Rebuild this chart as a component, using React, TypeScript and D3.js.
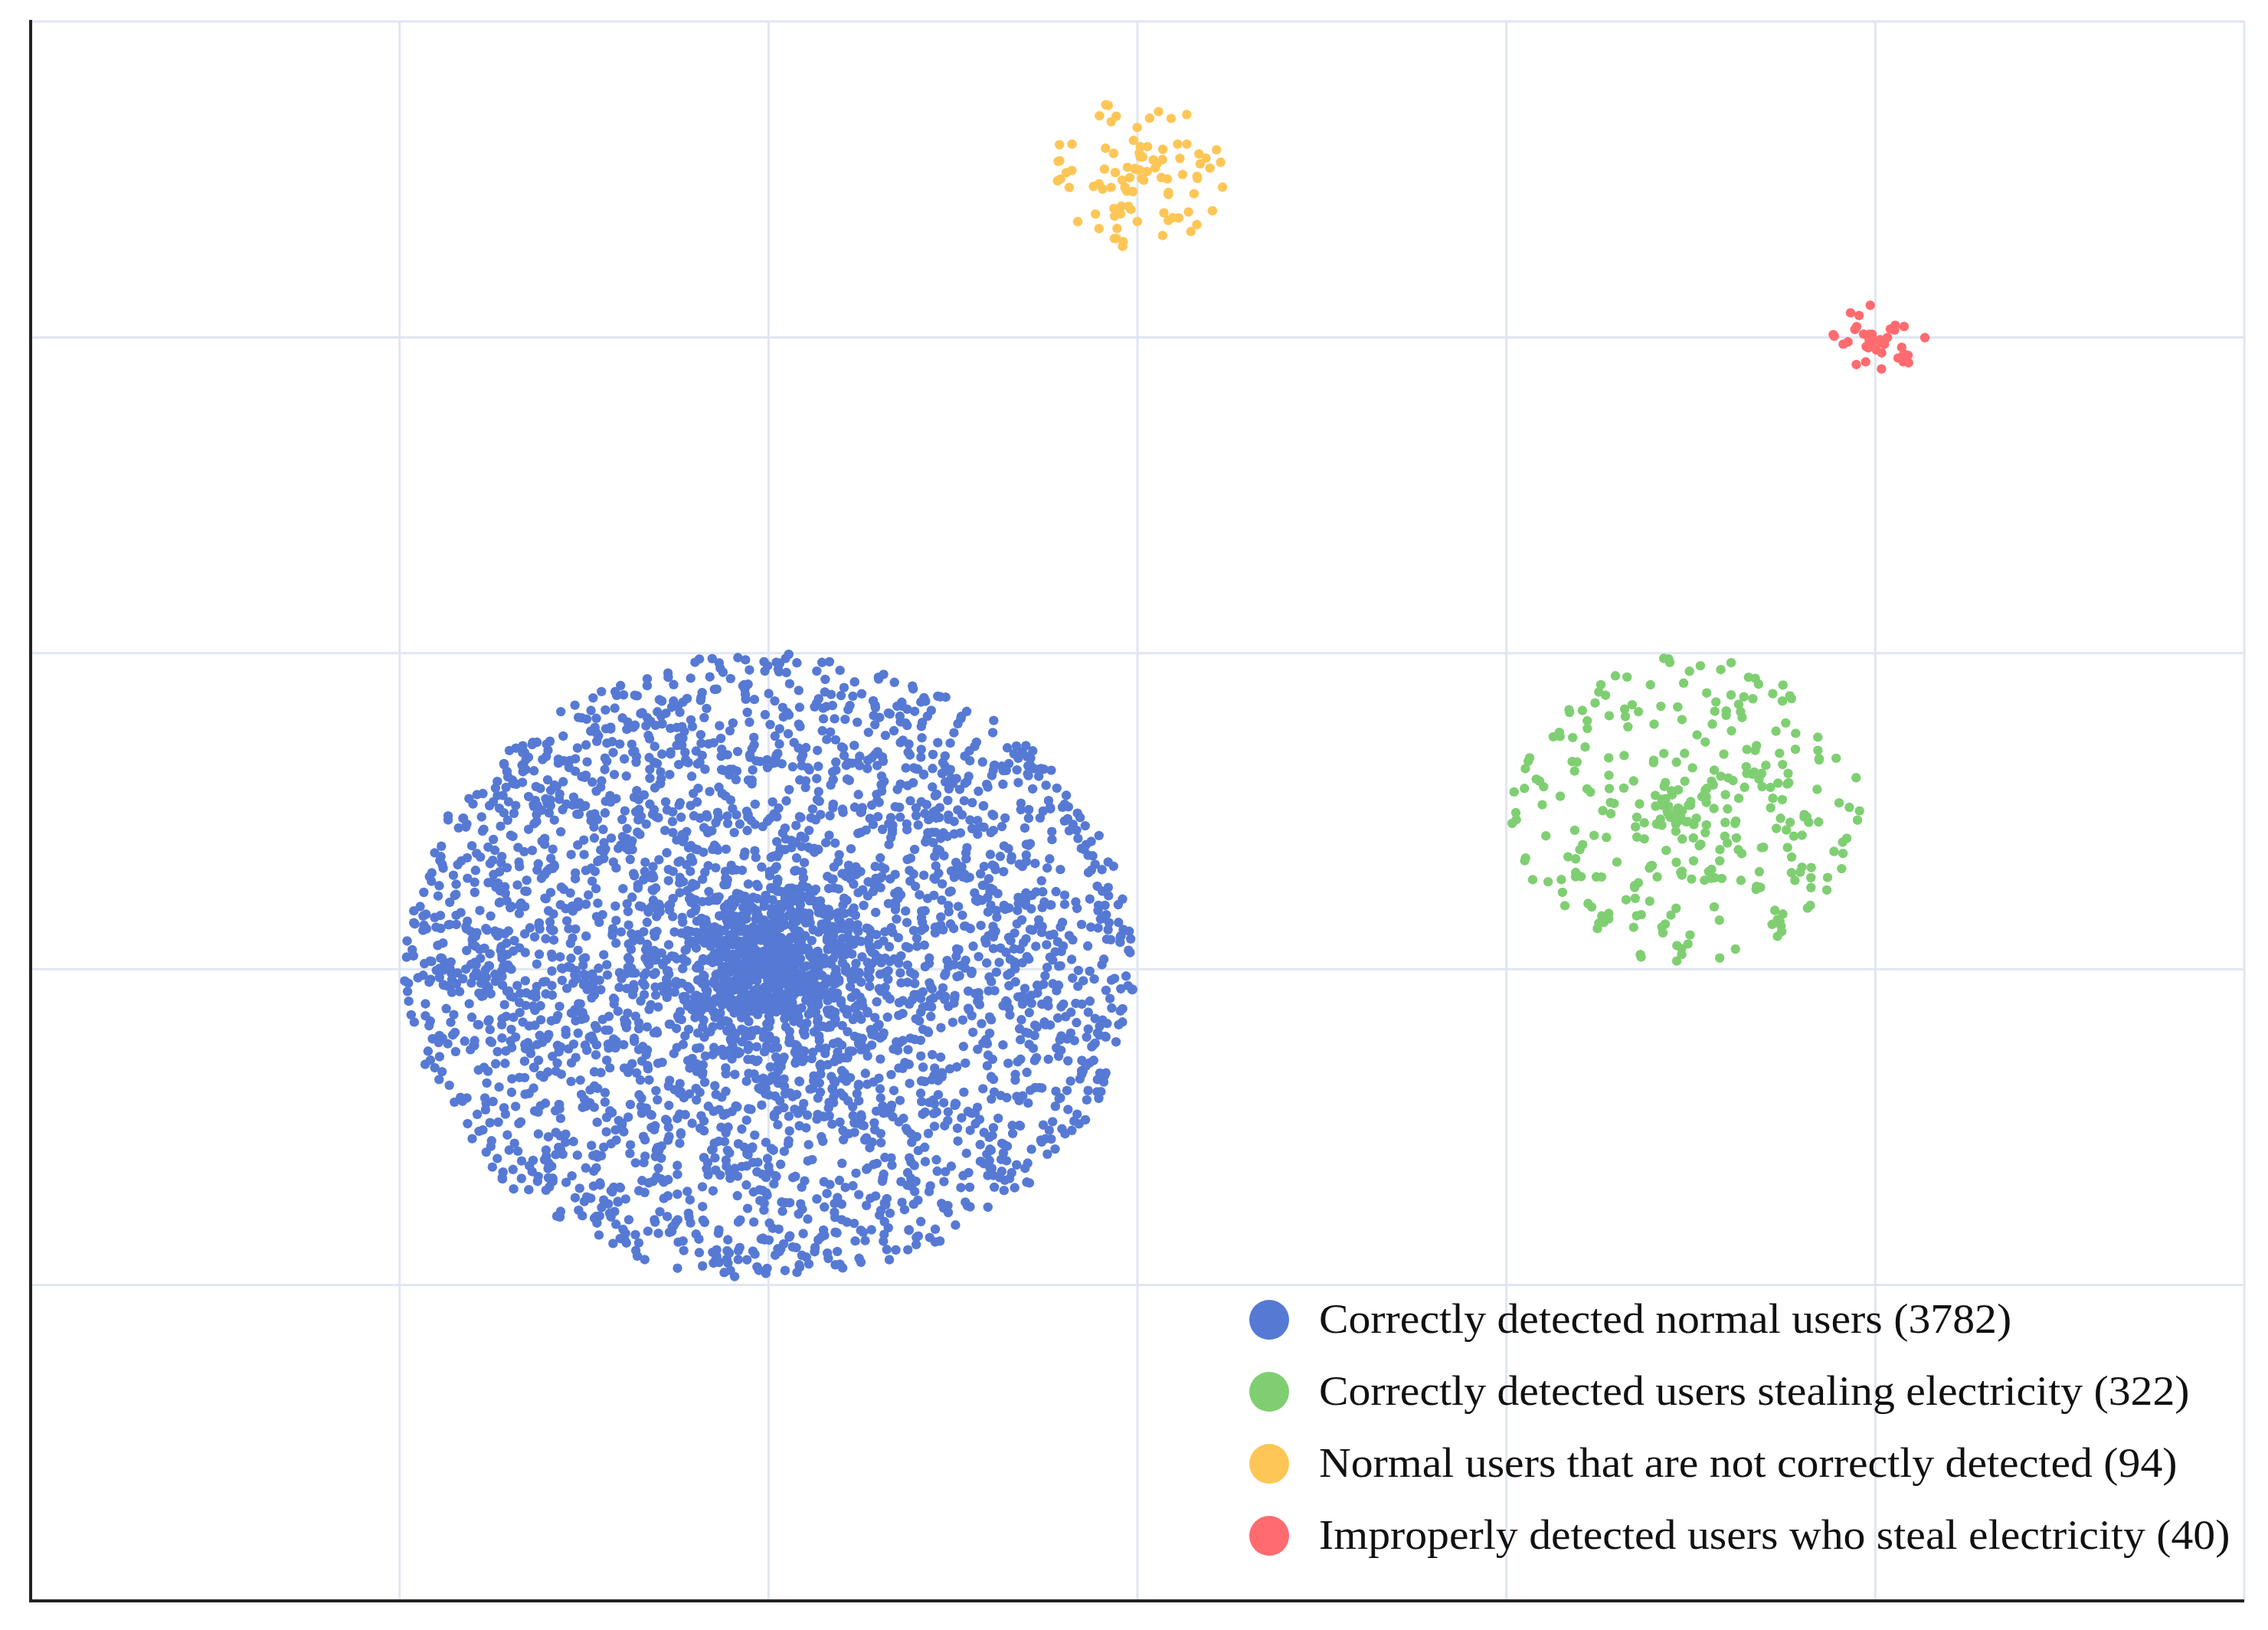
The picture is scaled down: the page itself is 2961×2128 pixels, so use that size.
import React from "react";
import * as d3 from "d3";

// ---- Chart data ----
const seriesNames = [
  "Correctly detected normal users (3782)",
  "Correctly detected users stealing electricity (322)",
  "Normal users that are not correctly detected (94)",
  "Improperly detected users who steal electricity (40)",
];
const seriesCounts = [3782, 322, 94, 40];
const seriesColors = ["#5679d4", "#7fcf72", "#fec656", "#ff6b6f"];
// cluster centres and extents in axis units
const clusterCenterX = [2.0, 4.485, 3.0, 5.0];
const clusterCenterY = [2.01, 2.505, 4.52, 4.0];
const clusterRadiusX = [0.99, 0.475, 0.237, 0.145];
const clusterRadiusY = [0.99, 0.485, 0.24, 0.125];
const clusterCoreShare = [0.16, 0.1, 0.15, 0.18];
const clusterCoreSpread = [0.14, 0.1, 0.12, 0.2];
const xTicks = [1, 2, 3, 4, 5, 6];
const yTicks = [1, 2, 3, 4, 5];

// Individual embedded points cannot be read one by one from the picture;
// they are laid out deterministically inside each cluster's measured extent.
function mulberry32(a: number) {
  return function () {
    a |= 0;
    a = (a + 0x6d2b79f5) | 0;
    let t = Math.imul(a ^ (a >>> 15), 1 | a);
    t = (t + Math.imul(t ^ (t >>> 7), 61 | t)) ^ t;
    return ((t ^ (t >>> 14)) >>> 0) / 4294967296;
  };
}

type Pt = { x: number; y: number; s: number };
function buildPoints(): Pt[][] {
  const rng = mulberry32(20240611);
  return seriesCounts.map((n, s) => {
    const pts: Pt[] = [];
    for (let i = 0; i < n; i++) {
      let r: number;
      if (rng() < clusterCoreShare[s]) {
        r = Math.min(1, clusterCoreSpread[s] * Math.sqrt(-2 * Math.log(1 - rng() * 0.9999)));
      } else {
        r = Math.pow(rng(), 0.58);
      }
      const th = rng() * Math.PI * 2;
      pts.push({
        x: clusterCenterX[s] + clusterRadiusX[s] * r * Math.cos(th),
        y: clusterCenterY[s] + clusterRadiusY[s] * r * Math.sin(th),
        s,
      });
    }
    return pts;
  });
}

const W = 2961;
const H = 2128;
const M = { left: 40, right: 31, top: 28, bottom: 38 };

export default function App() {
  const points = React.useMemo(buildPoints, []);
  const x = d3.scaleLinear().domain([0, 6]).range([M.left, W - M.right]);
  const y = d3.scaleLinear().domain([0, 5]).range([H - M.bottom, M.top]);
  const legendX = 1657;
  const legendY0 = 1723;
  const legendStep = 94;
  return (
    <svg
      width={W}
      height={H}
      style={{ position: "absolute", left: 0, top: 0, display: "block", background: "#fff" }}
    >
      <rect x={0} y={0} width={W} height={H} fill="#fff" />
      <g>
        {xTicks.map((t) => (
          <line key={"gx" + t} x1={x(t)} x2={x(t)} y1={y(0)} y2={y(5)} stroke="#e0e6f1" strokeWidth={3} />
        ))}
        {yTicks.map((t) => (
          <line key={"gy" + t} x1={x(0)} x2={x(6)} y1={y(t)} y2={y(t)} stroke="#e0e6f1" strokeWidth={3} />
        ))}
      </g>
      <line x1={x(0)} x2={x(0)} y1={y(5) - 2} y2={y(0) + 2} stroke="#222" strokeWidth={4} />
      <line x1={x(0) - 2} x2={x(6)} y1={y(0)} y2={y(0)} stroke="#222" strokeWidth={4} />
      {points.map((ser, s) => (
        <g key={"s" + s} fill={seriesColors[s]}>
          {ser.map((p, i) => (
            <circle key={i} cx={x(p.x)} cy={y(p.y)} r={6.2} />
          ))}
        </g>
      ))}
      <g fontFamily="'Liberation Serif', 'Times New Roman', serif" fontSize={55} fill="#111">
        {seriesNames.map((name, i) => (
          <g key={"l" + i} transform={`translate(${legendX},${legendY0 + i * legendStep})`}>
            <circle cx={0} cy={0} r={26} fill={seriesColors[i]} />
            <text x={65} y={17} transform="translate(65,0) scale(1.05,1) translate(-65,0)">
              {name}
            </text>
          </g>
        ))}
      </g>
    </svg>
  );
}
